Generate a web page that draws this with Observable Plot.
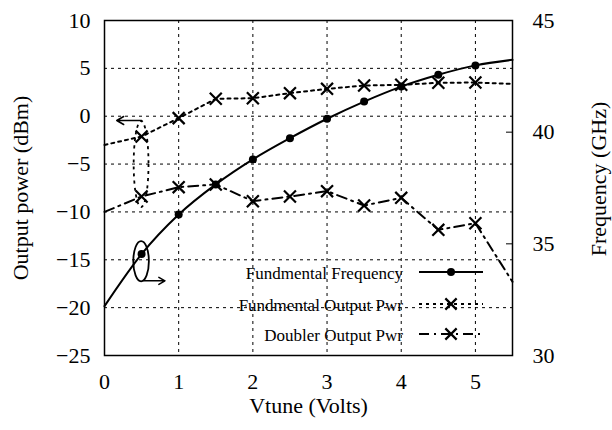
<!DOCTYPE html>
<html><head><meta charset="utf-8">
<script src="https://cdn.jsdelivr.net/npm/d3@7"></script>
<script src="https://cdn.jsdelivr.net/npm/@observablehq/plot@0.6"></script>
<style>
body{margin:0;background:#fff;}
#chart{position:relative;width:612px;height:430px;}
</style></head><body><div id="chart"></div>
<script>
// ---- data ----
const vtune      = [0, 0.5, 1, 1.5, 2, 2.5, 3, 3.5, 4, 4.5, 5, 5.5];
const freqGHz    = [32.21, 34.54, 36.31, 37.66, 38.78, 39.73, 40.60, 41.37, 42.04, 42.57, 42.99, 43.24];
const fundPwr    = [-3.0, -2.12, -0.2, 1.82, 1.88, 2.41, 2.86, 3.21, 3.28, 3.49, 3.52, 3.38];
const doublerPwr = [-10.0, -8.39, -7.41, -7.13, -8.88, -8.39, -7.83, -9.33, -8.53, -11.87, -11.18, -17.3];
const xTicks     = [0, 1, 2, 3, 4, 5];
const yTicks     = [-25, -20, -15, -10, -5, 0, 5, 10];
const ghzTicks   = [30, 35, 40, 45];
const seriesNames = ["Fundmental Frequency", "Fundmental Output Pwr", "Doubler Output Pwr"];
const xLabel = "Vtune (Volts)";
const yLabel = "Output power (dBm)";
const y2Label = "Frequency (GHz)";
// annotation anchors (data units)
const annoX = [0.5, 0.5];
const annoY = [-5.05, -15.2];
const annoArrowY = [-0.45, -17.2];
const annoArrowTo = [0.165, 0.815];

// ---- mapping GHz (right axis) onto dBm (left axis) ----
const yDom = [-25, 10], gDom = [30, 45];
const toLeft = g => yDom[0] + (g - gDom[0]) * (yDom[1] - yDom[0]) / (gDom[1] - gDom[0]);
const toRight = v => gDom[0] + (v - yDom[0]) * (gDom[1] - gDom[0]) / (yDom[1] - yDom[0]);

const rows = vtune.map((x, i) => ({x, f: toLeft(freqGHz[i]), p: fundPwr[i], d: doublerPwr[i]}));
const markerRows = rows.filter(r => r.x > 0 && r.x < 5.5);

const SERIF = "'Liberation Serif', 'Times New Roman', serif";
const FS = 22;
const font = {fontSize: FS, fill: "black", textAnchor: "middle"};
const gridStyle = {stroke: "black", strokeOpacity: 1, strokeWidth: 1, strokeDasharray: "3,4"};

const chart = Plot.plot({
  width: 612, height: 430,
  marginLeft: 104, marginRight: 100, marginTop: 20, marginBottom: 75,
  style: {fontSize: FS + "px", color: "black", background: "white", overflow: "visible"},
  x: {domain: [0, 5.5]},
  y: {domain: yDom},
  marks: [
    Plot.gridX(xTicks.filter(v => v > 0), gridStyle),
    Plot.gridY(yTicks.filter(v => v > yDom[0] && v < yDom[1]), gridStyle),
    Plot.axisX(xTicks, {tickSize: 0, tickPadding: 18, label: null, fontSize: FS}),
    Plot.axisY(yTicks, {tickSize: 0, tickPadding: 14, label: null, fontSize: FS}),
    Plot.axisY(ghzTicks.map(toLeft), {anchor: "right", tickSize: -7, tickPadding: 27, label: null, fontSize: FS,
      textAnchor: "start", tickFormat: v => d3.format("d")(Math.round(toRight(v)))}),
    Plot.text([yLabel], {text: d => d, frameAnchor: "left", rotate: -90, dx: -84, ...font}),
    Plot.text([y2Label], {text: d => d, frameAnchor: "right", rotate: -90, dx: 86, dy: -9, ...font}),
    Plot.text([xLabel], {text: d => d, frameAnchor: "bottom", dy: 57, ...font}),
    // series
    Plot.line(rows, {x: "x", y: "f", curve: "monotone-x", stroke: "black", strokeWidth: 2}),
    Plot.dot(markerRows, {x: "x", y: "f", r: 4, fill: "black"}),
    Plot.line(rows, {x: "x", y: "p", stroke: "black", strokeWidth: 2, strokeDasharray: "3,4"}),
    Plot.dot(markerRows, {x: "x", y: "p", symbol: "times", r: 5.5, stroke: "black", strokeWidth: 2.2}),
    Plot.line(rows, {x: "x", y: "d", stroke: "black", strokeWidth: 2, strokeDasharray: "10,5,2,5"}),
    Plot.dot(markerRows, {x: "x", y: "d", symbol: "times", r: 5.5, stroke: "black", strokeWidth: 2.2}),
    // annotation arrows
    Plot.arrow(annoX, {x1: (d, i) => annoX[i] + (i ? 0.03 : 0), y1: (d, i) => annoArrowY[i],
      x2: (d, i) => annoArrowTo[i], y2: (d, i) => annoArrowY[i],
      stroke: "black", strokeWidth: 1.5, headLength: 8}),
    Plot.frame({stroke: "black", strokeWidth: 1.5})
  ]
});
document.getElementById("chart").appendChild(chart);

const sx = chart.scale("x"), sy = chart.scale("y");
const svg = d3.select(chart);

// ellipses around the annotated points
const ellRx = [0.1, 0.105], ellRy = [4.5, 2.1];
annoX.forEach((x, i) => {
  const cx = sx.apply(x), cy = sy.apply(annoY[i]);
  svg.append("ellipse")
    .attr("cx", cx).attr("cy", cy)
    .attr("rx", sx.apply(x + ellRx[i]) - cx)
    .attr("ry", sy.apply(annoY[i] - ellRy[i]) - cy)
    .attr("fill", "none").attr("stroke", "black").attr("stroke-width", 1.8)
    .attr("stroke-dasharray", i === 0 ? "3,4" : null);
});

// legend inside the plot (lower right)
const leg = svg.append("g");
const legY = [272, 304, 334];
const dashes = [null, "3,4", "10,5,2,5"];
seriesNames.forEach((name, i) => {
  leg.append("text").attr("x", 403).attr("y", legY[i] + 1)
    .attr("text-anchor", "end").attr("dominant-baseline", "central")
    .attr("font-size", 17).attr("fill", "black").text(name);
  leg.append("line").attr("x1", 419).attr("x2", 483).attr("y1", legY[i]).attr("y2", legY[i])
    .attr("stroke", "black").attr("stroke-width", 2).attr("stroke-dasharray", dashes[i]);
  if (i === 0) leg.append("circle").attr("cx", 451).attr("cy", legY[i]).attr("r", 4).attr("fill", "black");
  else leg.append("path").attr("d", d3.symbol(d3.symbolTimes, 85)()).attr("transform", `translate(451,${legY[i]})`)
    .attr("stroke", "black").attr("stroke-width", 2.2).attr("fill", "none");
});

// serif font on every text
svg.selectAll("text").style("font-family", SERIF);
</script></body></html>
